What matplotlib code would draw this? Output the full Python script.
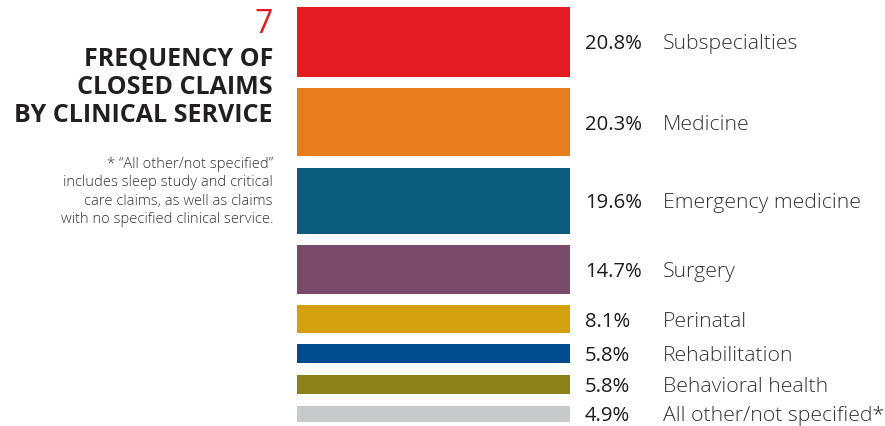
import matplotlib
matplotlib.use("Agg")
import matplotlib.pyplot as plt
from matplotlib.transforms import offset_copy

categories = ["Subspecialties", "Medicine", "Emergency medicine", "Surgery",
              "Perinatal", "Rehabilitation", "Behavioral health",
              "All other/not specified*"]
shares = [20.8, 20.3, 19.6, 14.7, 8.1, 5.8, 5.8, 4.9]
colors = ["#E51B24", "#E87D1E", "#0B5C7C", "#7A4A6B",
          "#D4A00F", "#004B8D", "#8C8019", "#C8C9CA"]

title_num = "7"
title_lines = "FREQUENCY OF\nCLOSED CLAIMS\nBY CLINICAL SERVICE"
footnote = ("* \u201cAll other/not specified\u201d\n"
            "includes sleep study and critical\n"
            "care claims, as well as claims\n"
            "with no specified clinical service.")

W, H = 885, 426
fig = plt.figure(figsize=(W / 100, H / 100), dpi=100)
plt.rcParams["font.family"] = ["Open Sans", "DejaVu Sans"]

# bar column spans x 297..570, y 7..422 (pixels)
ax = fig.add_axes([297 / W, 1 - 422 / H, (570 - 297) / W, (422 - 7) / H])
gap = 3.36
total = sum(shares) + gap * (len(shares) - 1)
ax.set_xlim(0, 1)
ax.set_ylim(total, 0)
ax.axis("off")

# labels sit on a baseline half a cap-height below each bar's centre
label_tr = offset_copy(ax.transData, fig=fig, x=0, y=-7.5, units="dots")

top = 0.0
for cat, v, c in zip(categories, shares, colors):
    ax.bar(0.5, v, width=1.0, bottom=top, color=c, linewidth=0)
    mid = top + v / 2
    ax.text(1.0 + 15 / 273, mid, f"{v:.1f}%", ha="left", va="baseline",
            fontsize=14.6, fontweight=500, color="#1E1A1B",
            transform=label_tr, clip_on=False)
    ax.text(1.0 + 93 / 273, mid, cat, ha="left", va="baseline",
            fontsize=15.3, fontweight=300, color="#333333",
            transform=label_tr, clip_on=False)
    top += v + gap

fig.text(273 / W, 1 - 33 / H, title_num, ha="right", va="baseline",
         fontsize=23, fontweight=400, color="#E51B24")
fig.text(273 / W, 1 - 122 / H, title_lines, ha="right", va="baseline",
         fontsize=18, fontweight="bold", color="#231F20", linespacing=1.15)
fig.text(273 / W, 1 - 223 / H, footnote, ha="right", va="baseline",
         fontsize=10.6, fontweight=300, color="#333333", linespacing=1.3)

fig.savefig("out.png", dpi=100)
